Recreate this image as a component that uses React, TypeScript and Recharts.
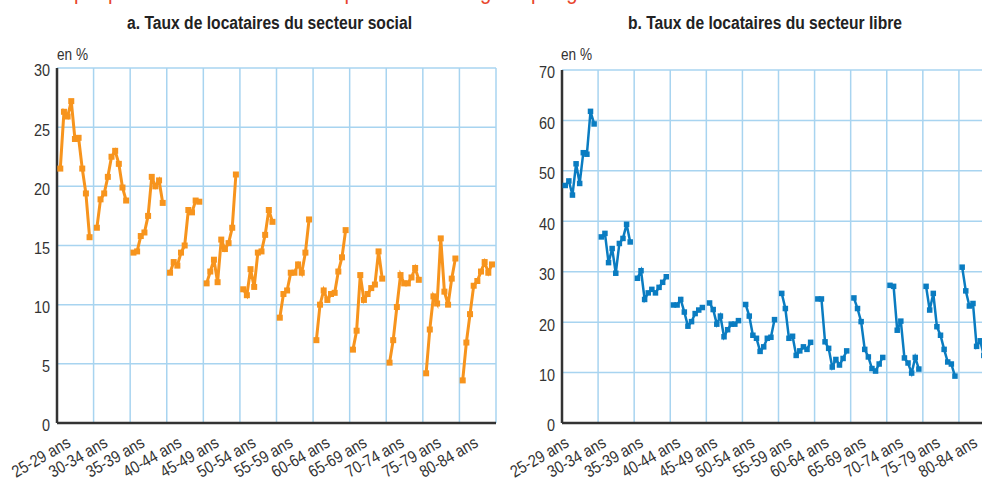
import { LineChart, Line, XAxis, YAxis, CartesianGrid } from 'recharts';

const ageGroups = [
  '25-29 ans', '30-34 ans', '35-39 ans', '40-44 ans', '45-49 ans', '50-54 ans',
  '55-59 ans', '60-64 ans', '65-69 ans', '70-74 ans', '75-79 ans', '80-84 ans',
];

// one row per age group, nine survey points each (en %)
const socialRates = [
  [21.5, 26.3, 25.9, 27.2, 24.0, 24.1, 21.5, 19.4, 15.7],
  [16.5, 18.9, 19.4, 20.8, 22.5, 23.0, 21.9, 19.9, 18.8],
  [14.4, 14.5, 15.8, 16.1, 17.5, 20.8, 20.0, 20.5, 18.6],
  [12.7, 13.6, 13.3, 14.4, 15.0, 18.0, 17.8, 18.8, 18.7],
  [11.8, 12.8, 13.8, 11.9, 15.5, 14.7, 15.2, 16.5, 21.0],
  [11.3, 10.8, 13.0, 11.5, 14.4, 14.5, 15.9, 18.0, 17.0],
  [8.9, 10.9, 11.2, 12.7, 12.7, 13.4, 12.7, 14.4, 17.2],
  [7.0, 10.0, 11.2, 10.4, 10.9, 11.0, 12.8, 14.0, 16.3],
  [6.2, 7.8, 12.5, 10.4, 10.9, 11.4, 11.7, 14.5, 12.2],
  [5.1, 7.0, 9.8, 12.5, 11.8, 11.8, 12.3, 13.1, 12.1],
  [4.2, 7.9, 10.7, 10.1, 15.6, 11.1, 10.0, 12.2, 13.9],
  [3.6, 6.8, 9.2, 11.6, 12.0, 12.8, 13.6, 12.7, 13.4],
];

const freeRates = [
  [47.1, 48.0, 45.2, 51.4, 47.5, 53.6, 53.3, 61.8, 59.3],
  [36.9, 37.6, 31.8, 34.6, 29.7, 35.6, 36.6, 39.4, 35.9],
  [28.7, 30.2, 24.5, 25.8, 26.5, 25.8, 26.9, 27.9, 29.0],
  [23.4, 23.4, 24.5, 22.0, 19.2, 20.1, 21.7, 22.4, 22.9],
  [23.8, 22.5, 19.6, 21.2, 17.1, 18.5, 19.6, 19.6, 20.3],
  [23.5, 21.2, 17.4, 16.8, 14.2, 15.1, 16.8, 17.0, 20.5],
  [25.7, 22.7, 16.8, 17.2, 13.4, 14.3, 15.1, 14.6, 16.0],
  [24.6, 24.6, 16.1, 14.8, 11.1, 12.6, 11.5, 12.8, 14.3],
  [24.8, 22.7, 20.1, 14.6, 13.1, 10.8, 10.3, 11.7, 13.0],
  [27.3, 27.1, 18.4, 20.2, 12.9, 11.9, 9.9, 13.0, 10.7],
  [27.1, 22.4, 25.7, 19.1, 17.4, 14.6, 12.1, 11.7, 9.3],
  [30.9, 26.2, 23.2, 23.7, 15.2, 16.3, 13.4, 14.5, 15.8],
];

const socialTicks = [0, 5, 10, 15, 20, 25, 30];
const freeTicks = [0, 10, 20, 30, 40, 50, 60, 70];

const bandEdges = ageGroups.map((_, i) => i).concat(ageGroups.length);
const bandCenters = ageGroups.map((_, i) => i + 0.5);

// each age group is one unit of the x scale; a null closes the segment
function toPoints(rows: number[][]) {
  const out: { x: number; v: number | null }[] = [];
  rows.forEach((row, i) => {
    row.forEach((v, j) => out.push({ x: i + (j + 0.9) / 10, v }));
    out.push({ x: i + 0.96, v: null });
  });
  return out;
}

const FONT = '"Liberation Sans", Arial, sans-serif';
const NARROW = 0.85; // the source uses a condensed grotesque
const GRID = '#a8d4f0';
const AXIS = '#333';

// condensed text: horizontal squeeze around the anchor point
const Cond = ({ x, y, anchor = 'start', size, weight, fill = AXIS, rotate = 0, dy = 0, children }: any) => (
  <text
    transform={`translate(${x},${y}) rotate(${rotate}) scale(${NARROW},1)`}
    x={0}
    y={dy}
    textAnchor={anchor}
    fontFamily={FONT}
    fontSize={size}
    fontWeight={weight}
    fill={fill}
  >
    {children}
  </text>
);

const AgeTick = ({ x, y, payload, index, shift, spread }: any) => (
  <Cond x={x + shift + spread * index} y={y + 23} anchor="end" size={17} rotate={-30}>
    {ageGroups[Math.floor(payload.value)]}
  </Cond>
);

const ValueTick = ({ x, y, payload }: any) => (
  <Cond x={x + 1} y={y} dy={8.4} anchor="end" size={17}>
    {payload.value}
  </Cond>
);

const squareDot = (size: number, color: string) => (props: any) => {
  const { cx, cy, index } = props;
  if (cx == null || cy == null || props.value == null) return <g key={index} />;
  return <rect key={index} x={cx - size / 2} y={cy - size / 2} width={size} height={size} fill={color} />;
};

function Panel({ rows, ticks, max, color, width, top, shift, spread, dotSize, lineWidth }: any) {
  const data = toPoints(rows);
  return (
    <LineChart width={width} height={480} data={data} margin={{ top, right: 4, left: 0, bottom: 0 }}>
      <CartesianGrid xAxisId="grid" stroke={GRID} strokeWidth={1.5} />
      <XAxis xAxisId="grid" type="number" dataKey="x" domain={[0, 12]} ticks={bandEdges} height={0} hide />
      <XAxis
        xAxisId="lab"
        type="number"
        dataKey="x"
        domain={[0, 12]}
        ticks={bandCenters}
        interval={0}
        height={57}
        tickLine={false}
        tickSize={0}
        tickMargin={0}
        axisLine={{ stroke: AXIS, strokeWidth: 2.5 }}
        tick={<AgeTick shift={shift} spread={spread} />}
      />
      <YAxis
        type="number"
        domain={[0, max]}
        ticks={ticks}
        interval={0}
        width={57}
        tickLine={false}
        axisLine={{ stroke: AXIS, strokeWidth: 2.5 }}
        tick={<ValueTick />}
      />
      <Line
        xAxisId="lab"
        type="linear"
        dataKey="v"
        stroke={color}
        strokeWidth={lineWidth}
        dot={squareDot(dotSize, color)}
        activeDot={false}
        connectNulls={false}
        isAnimationActive={false}
      />
    </LineChart>
  );
}

export default function App() {
  return (
    <div style={{ position: 'fixed', left: 0, top: 0, width: 982, height: 480, overflow: 'hidden', background: '#fff' }}>
      <div style={{ position: 'absolute', left: 0, top: 0 }}>
        <Panel rows={socialRates} ticks={socialTicks} max={30} color="#f7941d" width={500} top={68}
          shift={-3.6} spread={0.47} dotSize={6} lineWidth={3} />
      </div>
      <div style={{ position: 'absolute', left: 505, top: 0 }}>
        <Panel rows={freeRates} ticks={freeTicks} max={70} color="#0a7cc1" width={494} top={70}
          shift={-10} spread={1.04} dotSize={5.5} lineWidth={2.5} />
      </div>
      <svg width={982} height={480} style={{ position: 'absolute', left: 0, top: 0, pointerEvents: 'none' }}>
        <Cond x={40} y={-1.5} size={24} fill="#e8452c">
          Graphique 2 – Taux de locataires par tranche d'âge et par génération
        </Cond>
        <text x={127} y={29} textLength={285} lengthAdjust="spacingAndGlyphs"
          fontFamily={FONT} fontWeight="bold" fontSize={18} fill="#222">
          a. Taux de locataires du secteur social
        </text>
        <text x={628} y={29} textLength={274} lengthAdjust="spacingAndGlyphs"
          fontFamily={FONT} fontWeight="bold" fontSize={18} fill="#222">
          b. Taux de locataires du secteur libre
        </text>
        <Cond x={57} y={60} size={16}>en %</Cond>
        <Cond x={561} y={60} size={16}>en %</Cond>
      </svg>
    </div>
  );
}
